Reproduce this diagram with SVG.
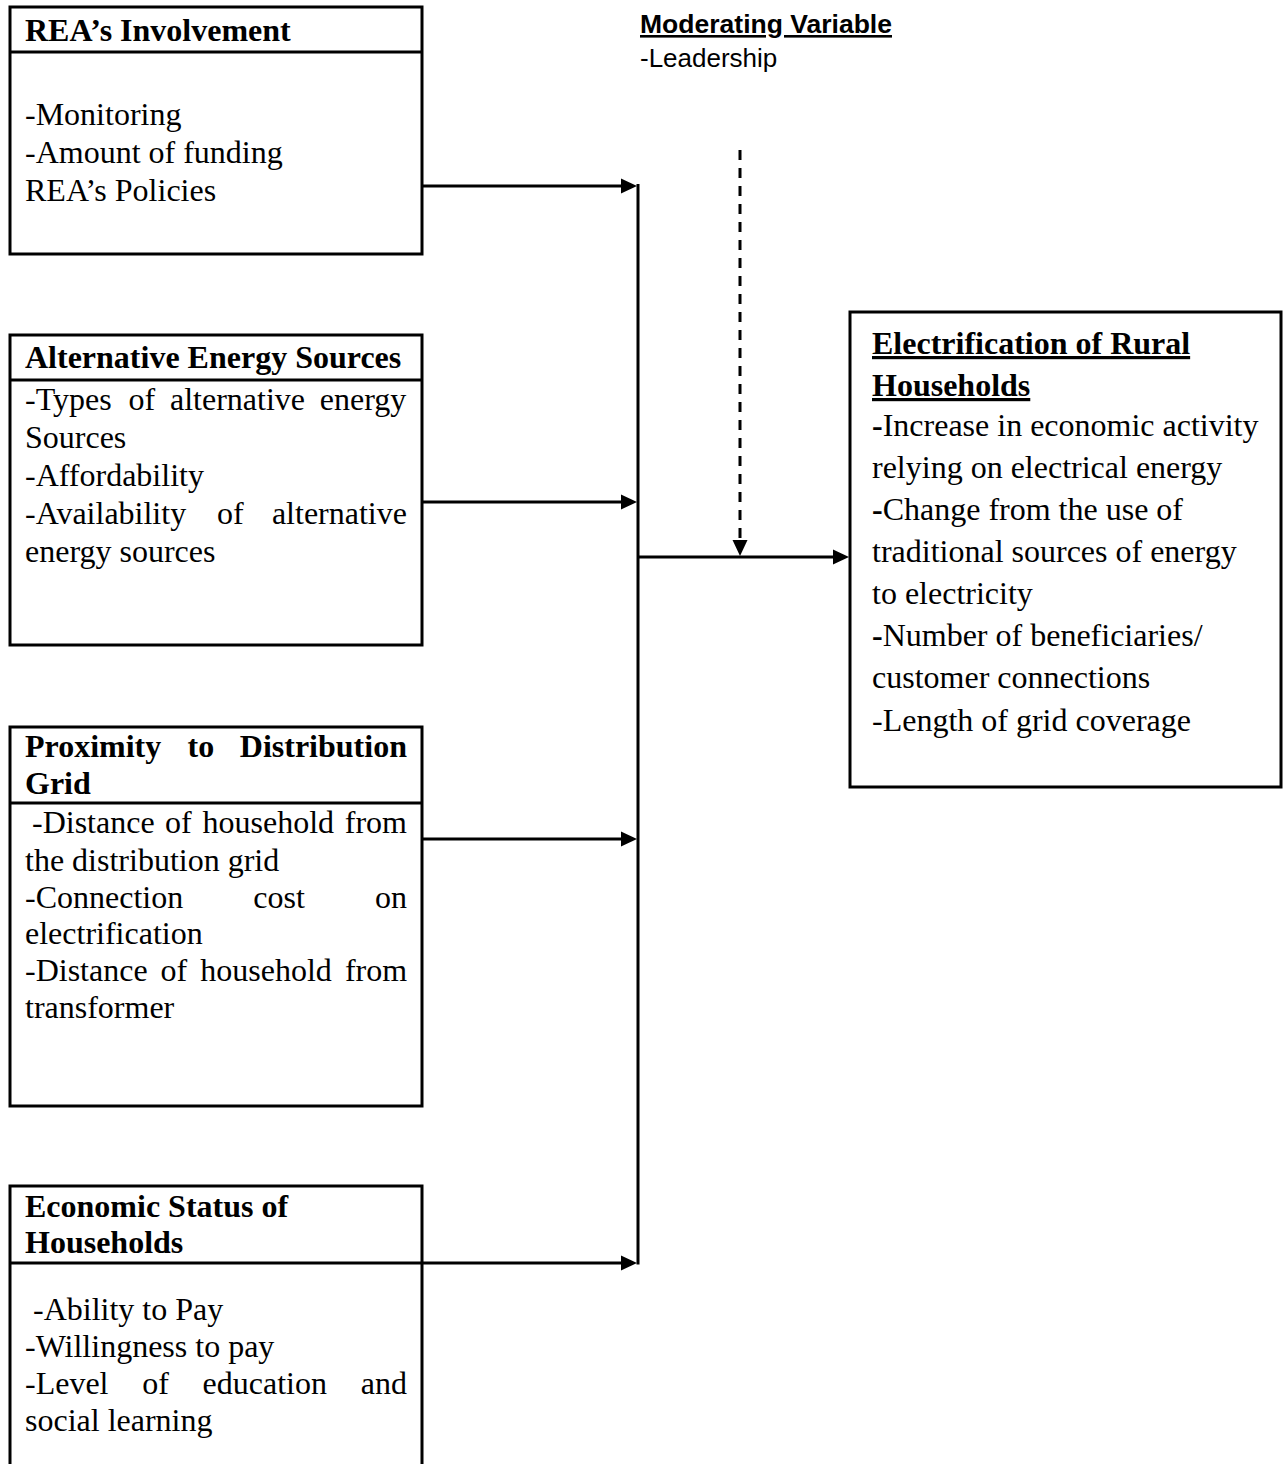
<svg xmlns="http://www.w3.org/2000/svg" width="1284" height="1464" viewBox="0 0 1284 1464">
<style>
.box{fill:#fff;stroke:#000;stroke-width:3}
.div{stroke:#000;stroke-width:3;fill:none}
.t{font-family:"Liberation Serif","Times New Roman",serif;font-size:32px;fill:#000}
.h{font-weight:bold}
.s{font-family:"Liberation Sans",Arial,sans-serif;font-size:26px;fill:#000}
.c{stroke:#000;stroke-width:3;fill:none}
.dash{stroke:#000;stroke-width:3;fill:none;stroke-dasharray:10 8}
.u{text-decoration:underline}
</style>
<defs>
<marker id="ah" markerUnits="userSpaceOnUse" markerWidth="17" markerHeight="16" refX="8" refY="8" orient="auto" viewBox="0 0 17 16">
<path d="M0,0.5 L16,8 L0,15.5 z" fill="#000" stroke="none"/>
</marker>
</defs>
<rect width="1284" height="1464" fill="#fff"/>

<g id="moderating">
<text class="s u" x="640" y="33" font-weight="bold" textLength="252" lengthAdjust="spacingAndGlyphs">Moderating Variable</text>
<text class="s" x="640" y="67">-Leadership</text>
</g>

<g id="rea">
<rect class="box" x="10" y="7" width="412" height="247"/>
<line class="div" x1="10" y1="52" x2="422" y2="52"/>
<text class="t h" x="25" y="41">REA’s Involvement</text>
<text class="t" x="25" y="125">-Monitoring</text>
<text class="t" x="25" y="163">-Amount of funding</text>
<text class="t" x="25" y="201">REA’s Policies</text>
</g>

<g id="alternative">
<rect class="box" x="10" y="335" width="412" height="310"/>
<line class="div" x1="10" y1="380" x2="422" y2="380"/>
<text class="t h" x="25" y="368">Alternative Energy Sources</text>
<text class="t" y="410"><tspan x="25">-Types</tspan><tspan x="128.6">of</tspan><tspan x="170">alternative</tspan><tspan x="319.8">energy</tspan></text>
<text class="t" x="25" y="448">Sources</text>
<text class="t" x="25" y="486">-Affordability</text>
<text class="t" y="524"><tspan x="25">-Availability</tspan><tspan x="216.9">of</tspan><tspan x="271.9">alternative</tspan></text>
<text class="t" x="25" y="562">energy sources</text>
</g>

<g id="proximity">
<rect class="box" x="10" y="727" width="412" height="379"/>
<line class="div" x1="10" y1="803" x2="422" y2="803"/>
<text class="t h" y="757"><tspan x="25">Proximity</tspan><tspan x="187.5">to</tspan><tspan x="239.8">Distribution</tspan></text>
<text class="t h" x="25" y="794">Grid</text>
<text class="t" y="833"><tspan x="32">-Distance</tspan><tspan x="165">of</tspan><tspan x="202.5">household</tspan><tspan x="344.8">from</tspan></text>
<text class="t" x="25" y="871">the distribution grid</text>
<text class="t" y="908"><tspan x="25">-Connection</tspan><tspan x="253.3">cost</tspan><tspan x="375">on</tspan></text>
<text class="t" x="25" y="944">electrification</text>
<text class="t" y="981"><tspan x="25">-Distance</tspan><tspan x="160.6">of</tspan><tspan x="200.3">household</tspan><tspan x="344.9">from</tspan></text>
<text class="t" x="25" y="1018">transformer</text>
</g>

<g id="economic">
<path class="div" d="M10,1470 V1186 H422 V1470"/>
<line class="div" x1="10" y1="1263" x2="422" y2="1263"/>
<text class="t h" x="25" y="1217">Economic Status of</text>
<text class="t h" x="25" y="1253">Households</text>
<text class="t" x="33" y="1320">-Ability to Pay</text>
<text class="t" x="25" y="1357">-Willingness to pay</text>
<text class="t" y="1394"><tspan x="25">-Level</tspan><tspan x="142.2">of</tspan><tspan x="202.6">education</tspan><tspan x="360.7">and</tspan></text>
<text class="t" x="25" y="1431">social learning</text>
</g>

<g id="electrification">
<rect class="box" x="850" y="312" width="431" height="475"/>
<text class="t h u" x="872" y="354">Electrification of Rural</text>
<text class="t h u" x="872" y="396">Households</text>
<text class="t" x="872" y="436"><tspan font-weight="bold">-</tspan>Increase in economic activity</text>
<text class="t" x="872" y="478">relying on electrical energy</text>
<text class="t" x="872" y="520"><tspan font-weight="bold">-</tspan>Change from the use of</text>
<text class="t" x="872" y="562">traditional sources of energy</text>
<text class="t" x="872" y="604">to electricity</text>
<text class="t" x="872" y="646"><tspan font-weight="bold">-</tspan>Number of beneficiaries/</text>
<text class="t" x="872" y="688">customer connections</text>
<text class="t" x="872" y="731">-Length of grid coverage</text>
</g>

<g id="connectors">
<line class="c" x1="422" y1="186" x2="629" y2="186" marker-end="url(#ah)"/>
<line class="c" x1="422" y1="502" x2="629" y2="502" marker-end="url(#ah)"/>
<line class="c" x1="422" y1="839" x2="629" y2="839" marker-end="url(#ah)"/>
<line class="c" x1="422" y1="1263" x2="629" y2="1263" marker-end="url(#ah)"/>
<line class="c" x1="638" y1="184" x2="638" y2="1264.5"/>
<line class="c" x1="638" y1="557" x2="841" y2="557" marker-end="url(#ah)"/>
<line class="dash" x1="740" y1="150" x2="740" y2="548" marker-end="url(#ah)"/>
</g>
</svg>
